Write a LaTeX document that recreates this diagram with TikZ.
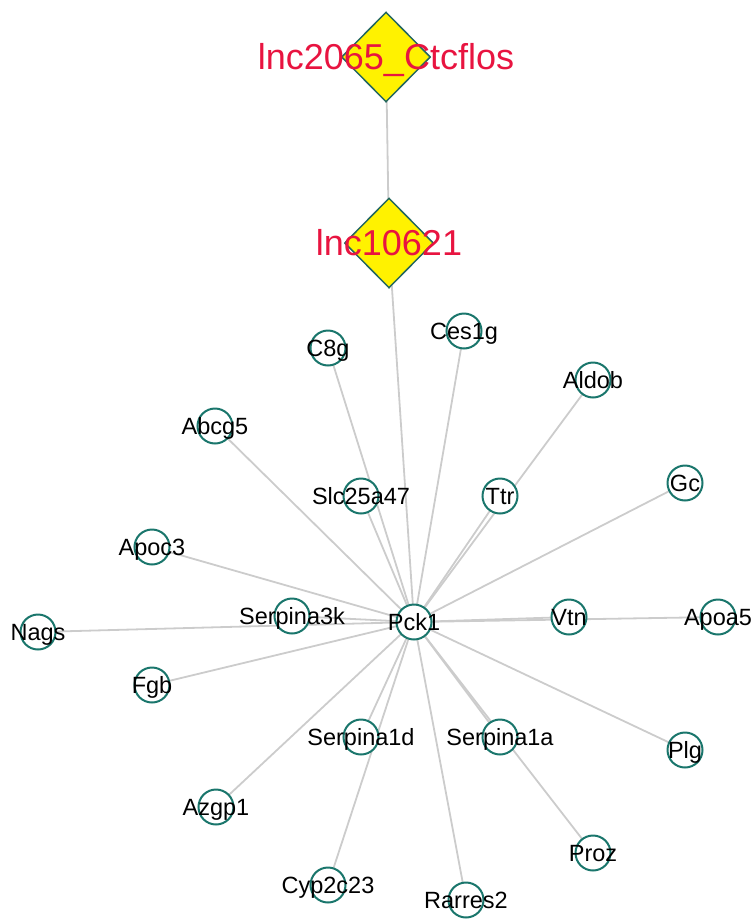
\documentclass[tikz,border=0pt]{standalone}
\usepackage{fontspec}
\setmainfont{Liberation Sans}
\usetikzlibrary{shapes.geometric,backgrounds}
\definecolor{ringc}{RGB}{26,118,108}
\definecolor{diamc}{RGB}{36,103,95}
\definecolor{edgec}{RGB}{204,204,204}
\definecolor{lncred}{RGB}{232,20,64}
\tikzset{
  gene/.style={circle,draw=ringc,line width=2pt,fill=white,minimum size=35pt,inner sep=0pt},
  lnc/.style={diamond,draw=diamc,line width=1.5pt,fill=yellow,minimum width=89pt,minimum height=90pt,inner sep=0pt},
  glabel/.style={font=\fontsize{23.5}{23.5}\selectfont,text=black,inner sep=0pt,text height=16.8pt,text depth=0pt},
  llabel/.style={font=\fontsize{36}{36}\selectfont,text=lncred,inner sep=0pt,text height=25.8pt,text depth=0pt},
  edge/.style={draw=edgec,line width=1.8pt}
}
\begin{document}
\begin{tikzpicture}[x=1pt,y=-1pt]
\useasboundingbox (0,0) rectangle (755,919);
% nodes
\node[lnc] (lncA) at (386,57) {};
\node[lnc] (lncB) at (389,243) {};
\node[gene] (pck) at (414,622) {};
\node[gene] (c8g) at (328,348) {};
\node[gene] (ces) at (464,331) {};
\node[gene] (aldob) at (593,380) {};
\node[gene] (abcg) at (215,426) {};
\node[gene] (slc) at (361,496) {};
\node[gene] (ttr) at (500,496) {};
\node[gene] (gc) at (685,483) {};
\node[gene] (apoc) at (152,547) {};
\node[gene] (nags) at (38,632) {};
\node[gene] (s3k) at (292,616) {};
\node[gene] (vtn) at (569,617) {};
\node[gene] (apoa) at (718,617) {};
\node[gene] (fgb) at (152,685) {};
\node[gene] (s1d) at (361,737) {};
\node[gene] (s1a) at (500,737) {};
\node[gene] (plg) at (685,750) {};
\node[gene] (azgp) at (216,807) {};
\node[gene] (proz) at (593,853) {};
\node[gene] (cyp) at (328,885) {};
\node[gene] (rarres) at (466,900) {};
% edges
\begin{pgfonlayer}{background}
\draw[edge] (lncA.center) -- (lncB.center);
\draw[edge] (lncB.center) -- (pck.center);
\foreach \n in {c8g,ces,aldob,abcg,slc,ttr,gc,apoc,nags,s3k,vtn,apoa,fgb,s1d,s1a,plg,azgp,proz,cyp,rarres}
  \draw[edge] (pck.center) -- (\n.center);
\end{pgfonlayer}
% labels
\node[llabel] (tA) at (lncA.center) {lnc2065\_Ctcflos};
\node[llabel] (tB) at (lncB.center) {lnc10621};
\node[glabel] (t1) at (pck.center) {Pck1};
\node[glabel] (t2) at (c8g.center) {C8g};
\node[glabel] (t3) at (ces.center) {Ces1g};
\node[glabel] (t4) at (aldob.center) {Aldob};
\node[glabel] (t5) at (abcg.center) {Abcg5};
\node[glabel] (t6) at (slc.center) {Slc25a47};
\node[glabel] (t7) at (ttr.center) {Ttr};
\node[glabel] (t8) at (gc.center) {Gc};
\node[glabel] (t9) at (apoc.center) {Apoc3};
\node[glabel] (t10) at (nags.center) {Nags};
\node[glabel] (t11) at (s3k.center) {Serpina3k};
\node[glabel] (t12) at (vtn.center) {Vtn};
\node[glabel] (t13) at (apoa.center) {Apoa5};
\node[glabel] (t14) at (fgb.center) {Fgb};
\node[glabel] (t15) at (s1d.center) {Serpina1d};
\node[glabel] (t16) at (s1a.center) {Serpina1a};
\node[glabel] (t17) at (plg.center) {Plg};
\node[glabel] (t18) at (azgp.center) {Azgp1};
\node[glabel] (t19) at (proz.center) {Proz};
\node[glabel] (t20) at (cyp.center) {Cyp2c23};
\node[glabel] (t21) at (rarres.center) {Rarres2};
\end{tikzpicture}
\end{document}
